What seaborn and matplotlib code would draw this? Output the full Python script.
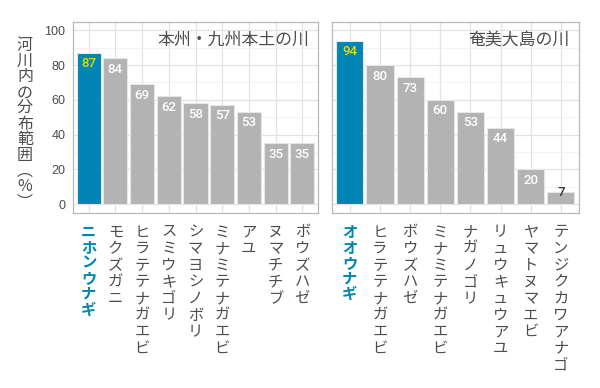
import matplotlib
matplotlib.use("Agg")
import matplotlib.pyplot as plt
import seaborn as sns
import pandas as pd
from matplotlib.ticker import MultipleLocator

# Data
honshu_species = ['ニホンウナギ', 'モクズガニ', 'ヒラテテナガエビ', 'スミウキゴリ', 'シマヨシノボリ',
                  'ミナミテナガエビ', 'アユ', 'ヌマチチブ', 'ボウズハゼ']
honshu_values = [87, 84, 69, 62, 58, 57, 53, 35, 35]
amami_species = ['オオウナギ', 'ヒラテテナガエビ', 'ボウズハゼ', 'ミナミテナガエビ', 'ナガノゴリ',
                 'リュウキュウアユ', 'ヤマトヌマエビ', 'テンジクカワアナゴ']
amami_values = [94, 80, 73, 60, 53, 44, 20, 7]
panel_titles = ['本州・九州本土の川', '奄美大島の川']
eel_species = ['ニホンウナギ', 'オオウナギ']
y_label = '河川内の分布範囲（%）'
y_ticks = [0, 20, 40, 60, 80, 100]

BLUE = '#0085B4'
GRAY = '#B3B3B3'
YELLOW = '#F2D600'
TEXT = '#4D4D4D'
CJK = ['Noto Sans CJK JP', 'DejaVu Sans']

sns.set_style("white")
plt.rcParams['font.family'] = CJK

fig = plt.figure(figsize=(6, 3.88), dpi=100)
axes = [fig.add_axes([0.1212, 0.4518, 0.4093, 0.4923]),
        fig.add_axes([0.5528, 0.4518, 0.4122, 0.4923])]

panels = [(honshu_species, honshu_values), (amami_species, amami_values)]
for k, (ax, (species, values), title) in enumerate(zip(axes, panels, panel_titles)):
    df = pd.DataFrame({'species': species, 'value': values})
    colors = [BLUE if s in eel_species else GRAY for s in species]
    sns.barplot(data=df, x='species', y='value', hue='species', palette=colors,
                legend=False, width=0.9, edgecolor='#E6E6E6', linewidth=0.8,
                saturation=1, ax=ax)

    # value labels
    for i, (s, v) in enumerate(zip(species, values)):
        if v >= 15:
            ax.text(i, v - 6.3, str(v), ha='center', va='center', fontsize=9.5,
                    fontweight=500, family='Roboto',
                    color=YELLOW if s in eel_species else 'white')
        else:
            ax.text(i, v - 0.5, str(v), ha='center', va='center', fontsize=9.5,
                    fontweight=500, family='Roboto', color='#333333')

    ax.set_xlim(-0.6, len(species) - 0.4)
    ax.set_ylim(-5, 105)
    ax.set_yticks(y_ticks)
    ax.yaxis.set_minor_locator(MultipleLocator(10))
    ax.set_axisbelow(True)
    ax.grid(True, which='major', color='#E3E3E3', linewidth=0.9)
    ax.grid(True, which='minor', axis='y', color='#EFEFEF', linewidth=0.5)
    ax.set_xlabel('')
    ax.set_ylabel('')
    for sp in ax.spines.values():
        sp.set_visible(True)
        sp.set_color('#B8B8B8')
        sp.set_linewidth(0.9)

    ax.tick_params(axis='both', which='major', length=2.75, width=0.6, color='#808080',
                   labelcolor=TEXT)
    ax.tick_params(axis='y', which='minor', length=0)
    ax.tick_params(axis='y', labelsize=9, pad=2.5)
    ax.tick_params(axis='x', pad=5)
    if k == 1:
        ax.tick_params(axis='y', labelleft=False)
    for lab in ax.get_yticklabels():
        lab.set_family('Liberation Sans')

    ax.set_xticks(range(len(species)))
    ax.set_xticklabels(['\n'.join(s) for s in species])
    for lab, s in zip(ax.get_xticklabels(), species):
        lab.set_fontsize(11)
        lab.set_linespacing(0.97)
        lab.set_verticalalignment('top')
        lab.set_horizontalalignment('center')
        if s in eel_species:
            lab.set_color(BLUE)
            lab.set_fontweight('bold')
        else:
            lab.set_color(TEXT)

    ax.text(0.963, 0.905, title, transform=ax.transAxes, ha='right', va='center',
            fontsize=12.2, color=TEXT)

# vertical y label with upright characters
vert = y_label.replace('（', '︵').replace('）', '︶')
fig.text(25 / 600, 1 - 124 / 388, '\n'.join(vert), ha='center', va='center',
         fontsize=11.5, color=TEXT, linespacing=0.9)

fig.savefig('out.png', dpi=100)
